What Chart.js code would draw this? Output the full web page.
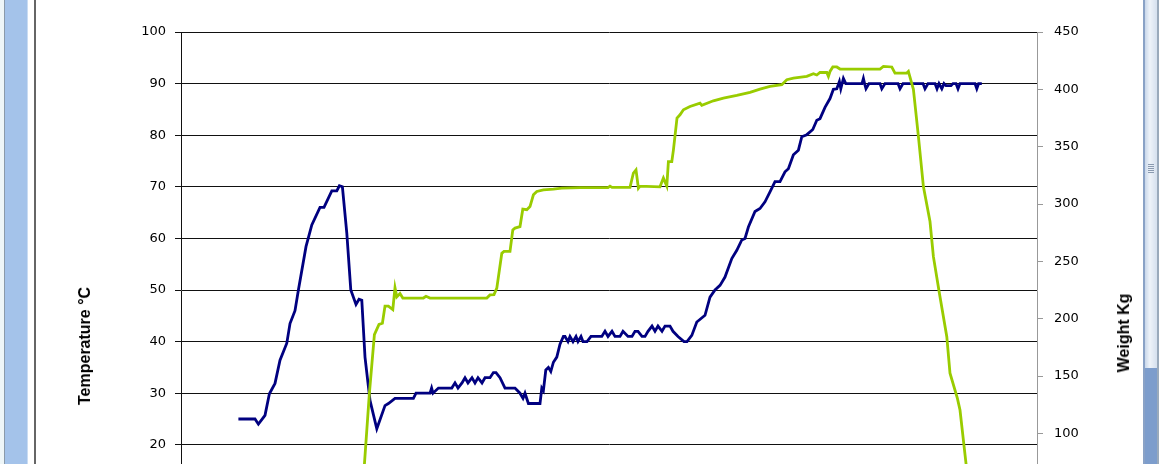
<!DOCTYPE html>
<html>
<head>
<meta charset="utf-8">
<script src="https://cdn.jsdelivr.net/npm/chart.js@4.4.1/dist/chart.umd.min.js"></script>
<style>
  body { margin: 0; width: 1159px; height: 464px; overflow: hidden; background: #fff; position: relative; }
  #wrap { position: absolute; left: 0; top: 0; width: 1159px; height: 600px; }
  .ytitle { position: absolute; font: bold 16px "Liberation Sans", Arial, sans-serif; color: #000; white-space: nowrap;
            transform: translate(-50%, -50%) rotate(-90deg); }
</style>
</head>
<body>
<div style="position:absolute;left:0;top:0;width:4px;height:464px;background:#eef6f8"></div>
<div style="position:absolute;left:4px;top:0;width:1px;height:464px;background:#8a9aaa"></div>
<div style="position:absolute;left:5px;top:0;width:22px;height:464px;background:#a4c3ea"></div>
<div style="position:absolute;left:27px;top:0;width:1px;height:464px;background:#c9dcf3"></div>
<div style="position:absolute;left:34px;top:0;width:2px;height:464px;background:#666"></div>

<div id="wrap"><canvas id="myChart"></canvas></div>

<div class="ytitle" style="left:85px;top:346px">Temperature °C</div>
<div class="ytitle" style="left:1124px;top:333px">Weight Kg</div>

<div style="position:absolute;left:1143px;top:0;width:2px;height:464px;background:#8aa2c6"></div>
<div style="position:absolute;left:1145px;top:0;width:12px;height:368px;background:linear-gradient(to right,#c9d7ea,#eef3f9 40%,#d5e0ee)"></div>
<div style="position:absolute;left:1145px;top:368px;width:12px;height:96px;background:#7d9dcc"></div>
<div style="position:absolute;left:1157px;top:0;width:2px;height:464px;background:#9aaabb"></div>
<div style="position:absolute;left:1148px;top:164px;width:6px;height:9px;background:repeating-linear-gradient(to bottom,#8a9ab0 0 1px,transparent 1px 2px)"></div>

<script>
// time axis is minutes from start (hidden in the picture)
var tempTime = [28.7, 37, 38.7, 42, 44.2, 47, 49.5, 52.9, 54.5, 57,
	58.7, 62.5, 65.4, 69.5, 71.5, 75.4, 77.9, 79.2, 80.7, 82.9,
	84.9, 87.5, 89, 90.4, 92, 94.5, 97.9, 102, 103.7, 107,
	110.4, 116.2, 117.5, 124.5, 125.3, 126, 128.7, 135.4, 137, 138.5,
	140.5, 142, 143.5, 145.5, 147, 148.5, 150.5, 152, 154.5, 156.2,
	157.5, 159.5, 162, 167, 169.5, 171, 172, 173.7, 179.5, 180.4,
	181.2, 182.4, 183.7, 184.9, 186.2, 187.9, 189.5, 191.2, 192, 193.5,
	194.5, 196, 197.5, 198.5, 200, 201, 203, 205, 210.4, 212,
	213.5, 215.5, 217, 219.5, 221, 223.5, 225.5, 227, 228.5, 230.5,
	232, 233.5, 235.5, 237, 238.5, 240.5, 242, 244.5, 246, 248.5,
	251.5, 253, 255.4, 257.9, 262, 264.5, 267, 269.5, 272, 275.4,
	277.9, 280.4, 282, 283.7, 287, 289.5, 292, 294.5, 297, 299.5,
	302, 303.7, 306.2, 308.7, 310.4, 312.9, 315.9, 317.9, 319.5, 322,
	324.5, 326.2, 327.9, 329.2, 329.9, 331.2, 332.4, 340.5, 341.2, 341.8,
	342.5, 344, 349.5, 350.4, 352, 358.5, 359.5, 361, 371, 372,
	373.5, 377, 378, 379, 380.4, 381.5, 382.5, 385, 386, 387.5,
	388.5, 389.5, 397, 397.9, 398.8, 400.4];
var tempValues = [25, 25, 24, 25.7, 29.9, 31.9, 36.4, 39.7, 43.5, 46,
	50, 58.4, 62.6, 66, 66, 69.2, 69.2, 70.2, 70, 61,
	50, 47.2, 48.2, 48, 37, 28.6, 23.1, 27.6, 28, 29,
	29, 29, 30, 30, 31, 30, 31, 31, 32, 31,
	32, 33, 32, 33, 32, 33, 32, 33, 33, 34,
	34, 33, 31, 31, 30, 29, 30, 28, 28, 31,
	30.5, 34.5, 35, 34.2, 36, 37, 39.5, 41, 41, 40,
	41, 40, 41, 40, 41, 40, 40, 41, 41, 42,
	41, 42, 41, 41, 42, 41, 41, 42, 42, 41,
	41, 42, 43, 42, 43, 42, 43, 43, 42, 41,
	40, 40, 41.2, 43.8, 45.1, 48.6, 50, 50.9, 52.5, 56.1,
	57.7, 59.7, 60, 62.2, 65.2, 65.8, 67.1, 69, 71, 71,
	72.9, 73.5, 76.2, 77.1, 79.7, 80.1, 81.1, 82.9, 83.2, 85.4,
	87.1, 88.9, 89, 90.4, 89, 91, 90, 90, 91, 90,
	89, 90, 90, 89, 90, 90, 89, 90, 90, 89,
	90, 90, 89, 90, 89, 90, 89.6, 89.6, 90, 90,
	89, 90, 90, 89, 90, 90];

var weightTime = [88.5, 91.7, 94.2, 96.7, 99, 100.7, 102, 103.7, 105.9, 107,
	107.9, 109.5, 110.9, 121.2, 122.5, 124.5, 152.9, 154.5, 156.5, 157.9,
	160.4, 161.5, 164.5, 165.9, 167, 169.5, 170.9, 172.9, 174.5, 176.2,
	177.9, 181.2, 186.2, 190.4, 199.5, 213.5, 214.5, 215.5, 224.5, 226.2,
	227.5, 228.7, 229.5, 239.5, 241.2, 242.9, 243.7, 245.4, 246.2, 248,
	249.5, 251.2, 254.5, 259.5, 260.4, 266.2, 271.2, 277.9, 284.5, 289.5,
	294.5, 300.4, 302.9, 306.2, 312.9, 316.2, 317.9, 319.5, 322.9, 323.7,
	324.5, 325.9, 327.9, 329.5, 349.5, 351.2, 355.4, 357, 362.9, 363.7,
	366.2, 368.7, 371.2, 374.5, 376.2, 379.2, 382.9, 384.5, 388.2, 389.5,
	392.5, 397.5];
var weightValues = [0, 73, 135, 186, 195, 196, 211, 211, 208, 227,
	219, 222, 218, 218, 219.5, 218, 218, 220.7, 221, 226.6,
	257, 258.6, 258.6, 277.4, 279, 280.3, 295.5, 295, 297.8, 308,
	310.9, 312.4, 313, 313.8, 314.3, 314.3, 315.6, 314.5, 314.5, 327,
	329.8, 313.8, 315.6, 315, 322.6, 315.6, 337, 337, 347, 375,
	377.8, 382.2, 385, 388, 386, 390, 392.4, 394.7, 397.3, 400.2,
	402.5, 404, 408.4, 409.8, 411.3, 413.6, 412.5, 414.7, 414.7, 411.3,
	415.6, 419.5, 419.5, 417.7, 417.7, 420, 419.5, 414.2, 414.2, 415.6,
	400, 358.9, 315.2, 284.7, 254.1, 222.2, 184.3, 152.4, 130.5, 120.3,
	73.8, 0];

var tempTicks = { min: 0, max: 100, step: 10 };
var weightTicks = { min: 0, max: 450, step: 50 };

function toPoints(xs, ys) {
	var pts = [];
	for (var i = 0; i < xs.length; i++) pts.push({ x: xs[i], y: ys[i] });
	return pts;
}

const tickFont = { family: "'DejaVu Sans', Verdana, sans-serif", size: 13 };

new Chart(document.getElementById('myChart'), {
	type: 'line',
	data: {
		datasets: [{
			label: 'Weight Kg',
			data: toPoints(weightTime, weightValues),
			yAxisID: 'y1',
			borderColor: '#99cc00',
			borderWidth: 2.8,
			pointRadius: 0,
			tension: 0,
			fill: false
		}, {
			label: 'Temperature °C',
			data: toPoints(tempTime, tempValues),
			yAxisID: 'y',
			borderColor: '#000080',
			borderWidth: 2.8,
			pointRadius: 0,
			tension: 0,
			fill: false
		}]
	},
	options: {
		responsive: true,
		maintainAspectRatio: false,
		animation: false,
		layout: { padding: { top: 32, bottom: 52, left: 0, right: 0 } },
		plugins: {
			legend: { display: false },
			tooltip: { enabled: false }
		},
		scales: {
			x: { type: 'linear', min: 0, max: 428, display: false },
			y: {
				position: 'left',
				min: tempTicks.min,
				max: tempTicks.max,
				ticks: { stepSize: tempTicks.step, font: tickFont, color: '#000', padding: 9 },
				grid: { color: '#111', lineWidth: 1, tickLength: 6 },
				border: { color: '#111', width: 1 },
				afterFit: function (s) { s.width = 181; }
			},
			y1: {
				position: 'right',
				min: weightTicks.min,
				max: weightTicks.max,
				ticks: { stepSize: weightTicks.step, font: tickFont, color: '#000', padding: 11 },
				grid: { drawOnChartArea: false, color: '#999', tickLength: 6 },
				border: { color: '#999', width: 1 },
				afterFit: function (s) { s.width = 122; }
			}
		}
	}
});
</script>
</body>
</html>
